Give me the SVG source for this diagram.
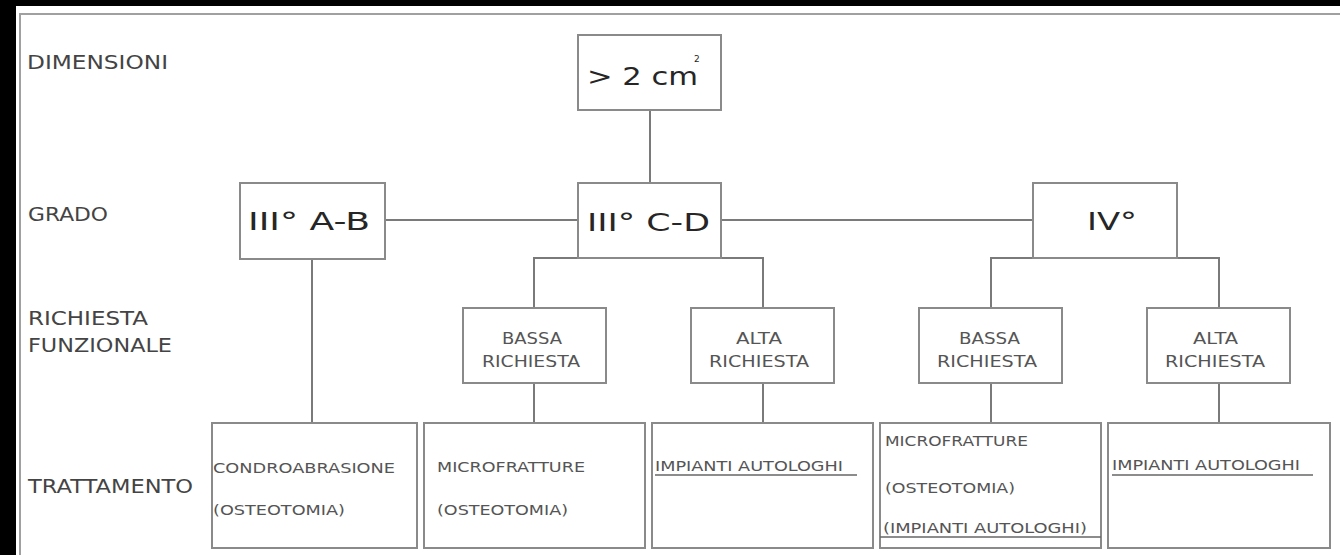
<svg xmlns="http://www.w3.org/2000/svg" width="1340" height="555" viewBox="0 0 1340 555">
<style>
  .box{fill:#fff;stroke:#8a8a8a;stroke-width:2}
  .con{fill:none;stroke:#7a7a7a;stroke-width:2}
  .lbl{font-family:"DejaVu Sans",Verdana,sans-serif;font-size:20px;fill:#444}
  .big{font-family:"DejaVu Sans",Verdana,sans-serif;font-size:25px;fill:#262626}
  .mid{font-family:"DejaVu Sans",Verdana,sans-serif;font-size:16px;fill:#555}
  .sm{font-family:"DejaVu Sans",Verdana,sans-serif;font-size:14px;fill:#555}
  .ul{stroke:#666;stroke-width:1.5}
</style>
<rect x="0" y="0" width="1340" height="555" fill="#000"/>
<rect x="16" y="6" width="1324" height="549" fill="#fff"/>
<path d="M20,555 V14 H1340" fill="none" stroke="#a0a0a0" stroke-width="2"/>

<g id="labels">
  <text class="lbl" x="27" y="69" textLength="141" lengthAdjust="spacingAndGlyphs">DIMENSIONI</text>
  <text class="lbl" x="28" y="221" textLength="80" lengthAdjust="spacingAndGlyphs">GRADO</text>
  <text class="lbl" x="28" y="325" textLength="120" lengthAdjust="spacingAndGlyphs">RICHIESTA</text>
  <text class="lbl" x="28" y="352" textLength="144" lengthAdjust="spacingAndGlyphs">FUNZIONALE</text>
  <text class="lbl" x="28" y="493" textLength="165" lengthAdjust="spacingAndGlyphs">TRATTAMENTO</text>
</g>

<g id="connectors">
  <line class="con" x1="650" y1="110" x2="650" y2="183"/>
  <line class="con" x1="385" y1="220" x2="578" y2="220"/>
  <line class="con" x1="721" y1="220" x2="1033" y2="220"/>
  <line class="con" x1="312" y1="259" x2="312" y2="423"/>
  <polyline class="con" points="534,308 534,258 763,258 763,308"/>
  <line class="con" x1="534" y1="383" x2="534" y2="423"/>
  <line class="con" x1="763" y1="383" x2="763" y2="423"/>
  <polyline class="con" points="991,308 991,258 1219,258 1219,308"/>
  <line class="con" x1="991" y1="383" x2="991" y2="423"/>
  <line class="con" x1="1219" y1="383" x2="1219" y2="423"/>
</g>

<g id="n_dim">
  <rect class="box" x="578" y="35" width="143" height="75"/>
  <text class="big" x="587" y="85" font-size="26"><tspan textLength="111" lengthAdjust="spacingAndGlyphs">&gt; 2 cm</tspan><tspan x="694" y="62" font-size="9">2</tspan></text>
</g>
<g id="n_3ab">
  <rect class="box" x="240" y="183" width="145" height="76"/>
  <text class="big" x="248" y="230" textLength="122" lengthAdjust="spacingAndGlyphs">III° A-B</text>
</g>
<g id="n_3cd">
  <rect class="box" x="578" y="183" width="143" height="75"/>
  <text class="big" x="587" y="231" textLength="123" lengthAdjust="spacingAndGlyphs">III° C-D</text>
</g>
<g id="n_4">
  <rect class="box" x="1033" y="183" width="144" height="75"/>
  <text class="big" x="1087" y="230" textLength="50" lengthAdjust="spacingAndGlyphs">IV°</text>
</g>

<g id="n_cd_bassa">
  <rect class="box" x="463" y="308" width="143" height="75"/>
  <text class="mid" x="502" y="344" textLength="60" lengthAdjust="spacingAndGlyphs">BASSA</text>
  <text class="mid" x="482" y="367" textLength="98" lengthAdjust="spacingAndGlyphs">RICHIESTA</text>
</g>
<g id="n_cd_alta">
  <rect class="box" x="691" y="308" width="143" height="75"/>
  <text class="mid" x="736" y="344" textLength="46" lengthAdjust="spacingAndGlyphs">ALTA</text>
  <text class="mid" x="709" y="367" textLength="100" lengthAdjust="spacingAndGlyphs">RICHIESTA</text>
</g>
<g id="n_4_bassa">
  <rect class="box" x="919" y="308" width="143" height="75"/>
  <text class="mid" x="959" y="344" textLength="61" lengthAdjust="spacingAndGlyphs">BASSA</text>
  <text class="mid" x="937" y="367" textLength="100" lengthAdjust="spacingAndGlyphs">RICHIESTA</text>
</g>
<g id="n_4_alta">
  <rect class="box" x="1147" y="308" width="143" height="75"/>
  <text class="mid" x="1193" y="344" textLength="45" lengthAdjust="spacingAndGlyphs">ALTA</text>
  <text class="mid" x="1165" y="367" textLength="100" lengthAdjust="spacingAndGlyphs">RICHIESTA</text>
</g>

<g id="t_3ab">
  <rect class="box" x="212" y="423" width="205" height="125"/>
  <text class="sm" x="213" y="473" textLength="182" lengthAdjust="spacingAndGlyphs">CONDROABRASIONE</text>
  <text class="sm" x="213" y="515" textLength="132" lengthAdjust="spacingAndGlyphs">(OSTEOTOMIA)</text>
</g>
<g id="t_cd_bassa">
  <rect class="box" x="424" y="423" width="221" height="125"/>
  <text class="sm" x="437" y="472" textLength="148" lengthAdjust="spacingAndGlyphs">MICROFRATTURE</text>
  <text class="sm" x="437" y="515" textLength="131" lengthAdjust="spacingAndGlyphs">(OSTEOTOMIA)</text>
</g>
<g id="t_cd_alta">
  <rect class="box" x="652" y="423" width="221" height="125"/>
  <text class="sm" x="655" y="471" textLength="188" lengthAdjust="spacingAndGlyphs">IMPIANTI AUTOLOGHI</text>
  <line class="ul" x1="655" y1="475" x2="857" y2="475"/>
</g>
<g id="t_4_bassa">
  <rect class="box" x="880" y="423" width="221" height="125"/>
  <text class="sm" x="885" y="446" textLength="143" lengthAdjust="spacingAndGlyphs">MICROFRATTURE</text>
  <text class="sm" x="885" y="493" textLength="130" lengthAdjust="spacingAndGlyphs">(OSTEOTOMIA)</text>
  <text class="sm" x="883" y="533" textLength="204" lengthAdjust="spacingAndGlyphs">(IMPIANTI AUTOLOGHI)</text>
  <line class="ul" x1="880" y1="537" x2="1101" y2="537"/>
</g>
<g id="t_4_alta">
  <rect class="box" x="1108" y="423" width="222" height="125"/>
  <text class="sm" x="1112" y="470" textLength="188" lengthAdjust="spacingAndGlyphs">IMPIANTI AUTOLOGHI</text>
  <line class="ul" x1="1112" y1="475" x2="1313" y2="475"/>
</g>
</svg>
